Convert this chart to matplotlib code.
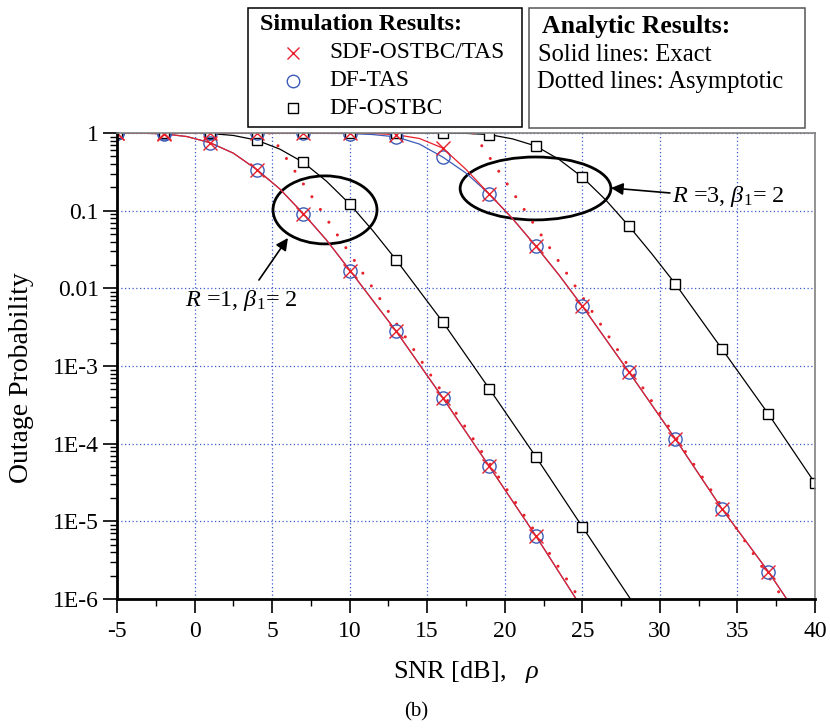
import matplotlib
matplotlib.use("Agg")
import matplotlib.pyplot as plt
from matplotlib.patches import Ellipse, Rectangle
from matplotlib.lines import Line2D

plt.rcParams['font.family'] = ['Liberation Serif', 'DejaVu Serif']
plt.rcParams['mathtext.fontset'] = 'custom'
plt.rcParams['mathtext.rm'] = 'Liberation Serif'
plt.rcParams['mathtext.it'] = 'Liberation Serif:italic'
plt.rcParams['axes.unicode_minus'] = False

# simulation points (every 3 dB)
snr_sim = [-5, -2, 1, 4, 7, 10, 13, 16, 19, 22, 25, 28, 31, 34, 37, 40]

# R = 1, beta1 = 2
sdf_r1_sim = [1.0, 0.97, 0.74, 0.334, 0.091, 0.0168, 0.0028, 3.9e-4, 5.1e-5, 6.5e-6]
dftas_r1_sim = [1.0, 0.97, 0.74, 0.334, 0.091, 0.0168, 0.0028, 3.9e-4, 5.1e-5, 6.5e-6]
ostbc_r1_sim = [1.0, 0.999, 0.985, 0.81, 0.42, 0.122, 0.0232, 3.7e-3, 5.1e-4, 6.8e-5, 8.5e-6]

# R = 3, beta1 = 2
sdf_r3_sim = [1.0, 1.0, 1.0, 1.0, 1.0, 0.998, 0.95, 0.64, 0.164, 0.035, 5.9e-3, 8.4e-4, 1.15e-4, 1.45e-5, 2.24e-6]
dftas_r3_sim = [1.0, 1.0, 1.0, 1.0, 1.0, 0.985, 0.89, 0.49, 0.164, 0.035, 5.9e-3, 8.4e-4, 1.15e-4, 1.45e-5, 2.24e-6]
ostbc_r3_sim = [1.0, 1.0, 1.0, 1.0, 1.0, 1.0, 1.0, 0.998, 0.955, 0.68, 0.27, 0.0635, 0.0114, 1.66e-3, 2.4e-4, 3.1e-5]

# exact analytic curves
ex_r1_x = [-5, -3.5, -2, -0.5, 1, 2.5, 4, 5.5, 7, 8.5, 10, 13, 16, 19, 22, 25]
ex_r1_y = [1.0, 0.995, 0.976, 0.90, 0.75, 0.55, 0.34, 0.19, 0.092, 0.042, 0.0172, 0.0028, 3.9e-4, 5.1e-5, 6.5e-6, 7.5e-7]
ex_ostbc_r1_x = [-5, -2, 1, 2.5, 4, 5.5, 7, 8.5, 10, 11.5, 13, 16, 19, 22, 25, 28.5]
ex_ostbc_r1_y = [1.0, 0.999, 0.985, 0.93, 0.81, 0.62, 0.42, 0.24, 0.122, 0.055, 0.0232, 3.7e-3, 5.1e-4, 6.8e-5, 8.5e-6, 7.6e-7]

ex_r3_x = [-5, 4, 10, 11.5, 13, 14.5, 16, 17.5, 19, 20.5, 22, 23.5, 25, 28, 31, 34, 37, 38.5]
ex_sdf_r3_y = [1.0, 1.0, 0.998, 0.99, 0.95, 0.85, 0.64, 0.34, 0.164, 0.079, 0.035, 0.0148, 5.9e-3, 8.4e-4, 1.15e-4, 1.45e-5, 2.24e-6, 8.0e-7]
ex_dftas_r3_y = [1.0, 1.0, 0.985, 0.955, 0.89, 0.72, 0.49, 0.305, 0.164, 0.079, 0.035, 0.0148, 5.9e-3, 8.4e-4, 1.15e-4, 1.45e-5, 2.24e-6, 8.0e-7]
ex_ostbc_r3_x = [-5, 13, 16, 17.5, 19, 20.5, 22, 23.5, 25, 26.5, 28, 29.5, 31, 34, 37, 40]
ex_ostbc_r3_y = [1.0, 1.0, 0.998, 0.99, 0.955, 0.84, 0.68, 0.457, 0.27, 0.138, 0.0635, 0.0275, 0.0114, 1.66e-3, 2.4e-4, 3.1e-5]

# asymptotic (straight in dB / log scale)
asy_r1_x = [4.83, 25.2]
asy_r1_y = [1.0, 7.8e-7]
asy_r3_x = [17.97, 38.2]
asy_r3_y = [1.0, 8.5e-7]

ytick_vals = [1, 0.1, 0.01, 1e-3, 1e-4, 1e-5, 1e-6]
ytick_labels = ['1', '0.1', '0.01', '1E-3', '1E-4', '1E-5', '1E-6']
xtick_vals = [-5, 0, 5, 10, 15, 20, 25, 30, 35, 40]

red = '#e8202a'
blue = '#3c5cb8'
W, H = 830, 728

fig = plt.figure(figsize=(W / 100, H / 100), dpi=100)
ax = fig.add_axes([117 / W, 1 - 599 / H, 698 / W, 466 / H])

# exact lines
ax.plot(ex_ostbc_r1_x, ex_ostbc_r1_y, color='black', lw=0.9)
ax.plot(ex_ostbc_r3_x, ex_ostbc_r3_y, color='black', lw=0.9)
ax.plot(ex_r1_x, ex_r1_y, color=blue, lw=0.9)
ax.plot(ex_r3_x, ex_dftas_r3_y, color=blue, lw=0.9)
ax.plot(ex_r1_x, ex_r1_y, color=red, lw=0.9)
ax.plot(ex_r3_x, ex_sdf_r3_y, color=red, lw=0.9)

# asymptotic lines
for xs, ys in [(asy_r1_x, asy_r1_y), (asy_r3_x, asy_r3_y)]:
    ax.plot(xs, ys, color=red, lw=2.2, dashes=(0.01, 5), dash_capstyle='round')

# simulation markers
ax.plot(snr_sim[:len(ostbc_r1_sim)], ostbc_r1_sim, 's', ms=7.5, mfc='white', mec='black', mew=1.0, ls='none')
ax.plot(snr_sim[:len(ostbc_r3_sim)], ostbc_r3_sim, 's', ms=7.5, mfc='white', mec='black', mew=1.0, ls='none')
ax.plot(snr_sim[:len(dftas_r1_sim)], dftas_r1_sim, 'o', ms=9.5, mfc='none', mec=blue, mew=1.0, ls='none')
ax.plot(snr_sim[:len(dftas_r3_sim)], dftas_r3_sim, 'o', ms=9.5, mfc='none', mec=blue, mew=1.0, ls='none')
ax.plot(snr_sim[:len(sdf_r1_sim)], sdf_r1_sim, 'x', ms=10, mec=red, mew=1.0, ls='none')
ax.plot(snr_sim[:len(sdf_r3_sim)], sdf_r3_sim, 'x', ms=10, mec=red, mew=1.0, ls='none')

ax.set_yscale('log')
ax.set_xlim(-5, 40)
ax.set_ylim(1e-6, 1)
ax.set_xticks(xtick_vals)
ax.set_xticks([-2.5 + 5 * i for i in range(9)], minor=True)
ax.set_yticks(ytick_vals)
ax.set_yticklabels(ytick_labels)
ax.tick_params(which='major', direction='out', length=10, width=1.2, labelsize=17, pad=3)
ax.tick_params(which='minor', direction='out', length=5, width=1.0)
ax.tick_params(axis='x', pad=6)
ax.grid(True, which='major', color='#3a5cc8', ls=(0, (1, 2)), lw=0.9)
ax.set_axisbelow(True)

for s in ['left', 'bottom']:
    ax.spines[s].set_linewidth(2)
    ax.spines[s].set_color('black')
for s in ['top', 'right']:
    ax.spines[s].set_linewidth(1.2)
    ax.spines[s].set_color('#808080')

# ellipses + annotations
ax.add_patch(Ellipse((0.298, 0.835), 0.149, 0.146, transform=ax.transAxes, fill=False, ec='black', lw=2, clip_on=False))
ax.add_patch(Ellipse((0.5996, 0.881), 0.216, 0.135, transform=ax.transAxes, fill=False, ec='black', lw=2, clip_on=False))

arrow = dict(arrowstyle='-|>', color='black', lw=1.2, mutation_scale=18, shrinkA=0, shrinkB=0)
ax.annotate('', xy=(6.02, 0.0445), xytext=(4.15, 0.0128), arrowprops=arrow)
ax.annotate('', xy=(26.85, 0.196), xytext=(30.65, 0.169), arrowprops=arrow)
ax.text(3.0, 0.0059, r'$R$ =1, $\beta_1$= 2', fontsize=17.5, ha='center', va='baseline')
ax.text(30.8, 0.128, r'$R$ =3, $\beta_1$= 2', fontsize=17.5, ha='left', va='baseline')

# axis labels
fig.text(466 / W, 1 - 672 / H, r'SNR [dB],   $\rho$', fontsize=19, ha='center', va='center')
fig.text(416 / W, 1 - 712 / H, '(b)', fontsize=15, ha='center', va='center')
fig.text(21 / W, 1 - 378 / H, 'Outage Probability', fontsize=20, rotation=90, ha='center', va='center')

# legend boxes
fig.add_artist(Rectangle((248 / W, 1 - 127 / H), 274 / W, 119 / H, transform=fig.transFigure, fill=False, ec='black', lw=1.1))
fig.add_artist(Rectangle((529 / W, 1 - 128 / H), 276 / W, 120 / H, transform=fig.transFigure, fill=False, ec='#555555', lw=1.1))

fig.text(260 / W, 1 - 25 / H, 'Simulation Results:', fontsize=17.4, fontweight='bold', va='center')
leg_rows = [('x', red, 'none', 'SDF-OSTBC/TAS', 53), ('o', blue, 'none', 'DF-TAS', 81), ('s', 'black', 'white', 'DF-OSTBC', 108)]
for mk, c, fc, lab, py in leg_rows:
    fig.add_artist(Line2D([293 / W], [1 - py / H], marker=mk, ms=9 if mk != 's' else 7.5, mec=c, mfc=fc, mew=1.0,
                          ls='none', transform=fig.transFigure))
    fig.text(329 / W, 1 - py / H, lab, fontsize=16.8, va='center')

fig.text(542 / W, 1 - 27 / H, 'Analytic Results:', fontsize=18.5, fontweight='bold', va='center')
fig.text(538 / W, 1 - 55 / H, 'Solid lines: Exact', fontsize=17.7, va='center')
fig.text(537 / W, 1 - 82 / H, 'Dotted lines: Asymptotic', fontsize=17.7, va='center')

fig.savefig('out.png', dpi=100)
